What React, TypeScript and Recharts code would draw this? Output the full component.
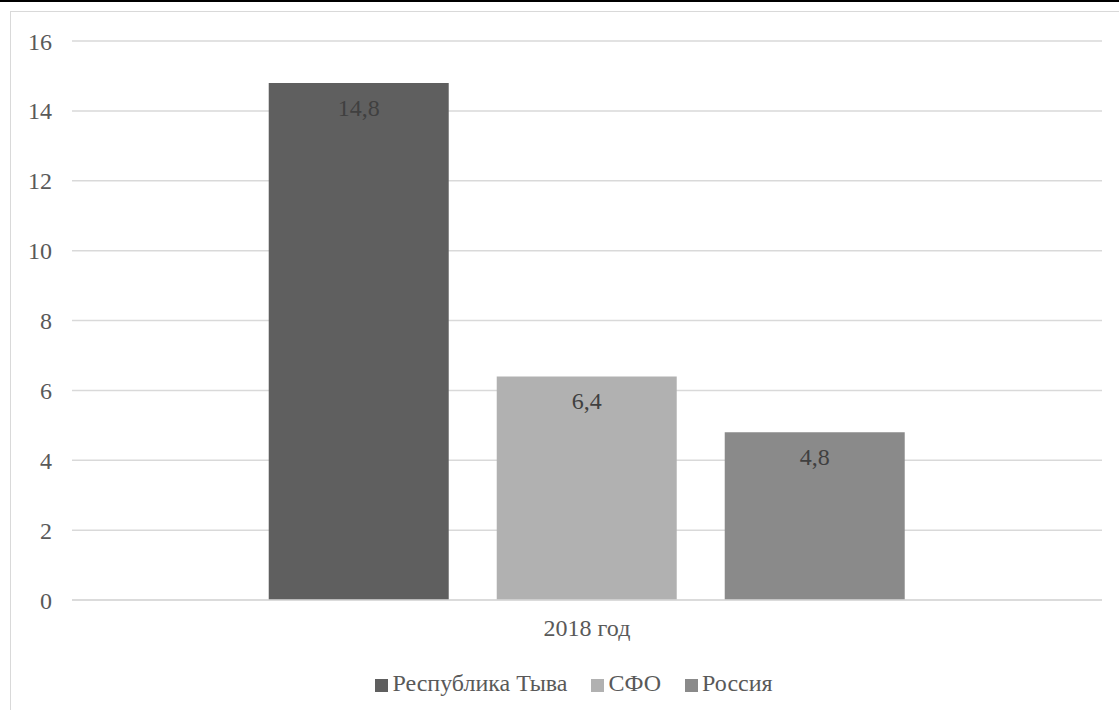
import React from 'react';
import { BarChart, Bar, XAxis, YAxis, CartesianGrid, Legend, LabelList } from 'recharts';

const categories = ['2018 год'];
const tyvaValues = [14.8];
const sfoValues = [6.4];
const russiaValues = [4.8];
const yTicks = [0, 2, 4, 6, 8, 10, 12, 14, 16];

const seriesDefs = [
  { key: 'tyva', name: 'Республика Тыва', color: '#5f5f5f', values: tyvaValues },
  { key: 'sfo', name: 'СФО', color: '#b1b1b1', values: sfoValues },
  { key: 'russia', name: 'Россия', color: '#8a8a8a', values: russiaValues },
];
const legendOrder = seriesDefs.map((s) => s.name);

const data = categories.map((c, i) => {
  const row: any = { category: c };
  seriesDefs.forEach((s) => { row[s.key] = s.values[i]; });
  return row;
});

const FONT = '"Liberation Serif", "Times New Roman", Tinos, "DejaVu Serif", serif';
const fmt = (v: any) => String(v).replace('.', ',');

export default function App() {
  return (
    <div style={{ position: 'absolute', left: 0, top: 0, width: 1119, height: 710, overflow: 'hidden', background: '#fff', fontFamily: FONT }}>
      <div style={{ position: 'absolute', left: 0, top: 0, width: 1119, height: 2, background: '#000' }} />
      <div style={{ position: 'absolute', left: 10, top: 11, width: 1200, height: 800, border: '1px solid #d9d9d9', boxSizing: 'border-box' }} />
      <div style={{ position: 'absolute', left: 0, top: 0 }}>
        <BarChart
          width={1119}
          height={710}
          data={data}
          margin={{ top: 41, right: 17, left: 0, bottom: 53 }}
          barCategoryGap="19.1%"
          barGap={48}
          style={{ fontFamily: FONT }}
        >
          <CartesianGrid vertical={false} stroke="#d9d9d9" strokeWidth={1.5} />
          <XAxis
            dataKey="category"
            axisLine={{ stroke: '#d9d9d9', strokeWidth: 1.5 }}
            tickLine={false}
            tickMargin={13}
            tick={{ fill: '#595959', fontSize: 24, fontFamily: FONT }}
          />
          <YAxis
            width={72}
            domain={[0, 16]}
            ticks={yTicks}
            axisLine={false}
            tickLine={false}
            tickSize={6}
            tickMargin={14}
            tick={{ fill: '#595959', fontSize: 24, fontFamily: FONT }}
          />
          <Legend
            verticalAlign="bottom"
            iconType="square"
            iconSize={13}
            itemSorter={(item: any) => legendOrder.indexOf(item.value)}
            wrapperStyle={{ bottom: 13, left: 35, fontFamily: FONT, fontSize: 24 }}
            formatter={(value: any) => <span style={{ color: '#595959', marginRight: 14 }}>{value}</span>}
          />
          {seriesDefs.map((s) => (
            <Bar key={s.key} dataKey={s.key} name={s.name} fill={s.color} isAnimationActive={false}>
              <LabelList
                dataKey={s.key}
                position="insideTop"
                offset={16}
                formatter={fmt}
                style={{ fill: '#404040', fontSize: 24, fontFamily: FONT }}
              />
            </Bar>
          ))}
        </BarChart>
      </div>
    </div>
  );
}
